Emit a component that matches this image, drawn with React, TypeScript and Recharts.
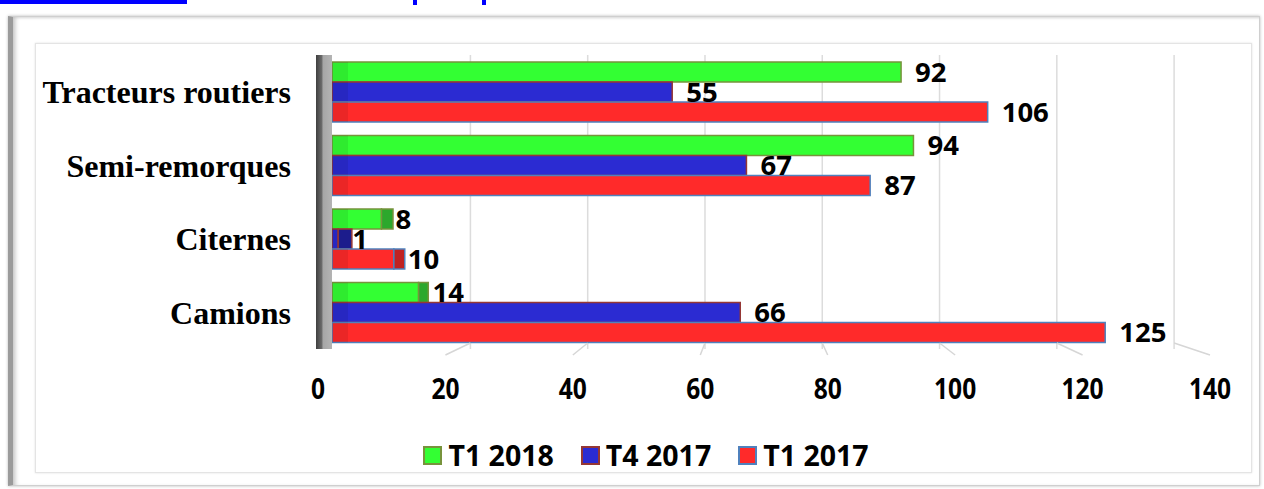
import { Bar, BarChart, CartesianGrid, LabelList, Legend, XAxis, YAxis } from "recharts";

const categories = ["Tracteurs routiers", "Semi-remorques", "Citernes", "Camions"];
const t1_2018 = [92, 94, 8, 14];
const t4_2017 = [55, 67, 1, 66];
const t1_2017 = [106, 87, 10, 125];
const xTicks = [0, 20, 40, 60, 80, 100, 120, 140];

const series = [
  { key: "t1_2018", name: "T1 2018", fill: "#33ff33", stroke: "#77933c", cap: "#2ca82c" },
  { key: "t4_2017", name: "T4 2017", fill: "#2b2bd2", stroke: "#953735", cap: "#1c1c8c" },
  { key: "t1_2017", name: "T1 2017", fill: "#ff2a2a", stroke: "#4f81bd", cap: "#c02222" },
];

const data = categories.map((name, i) => ({
  name,
  t1_2018: t1_2018[i],
  t4_2017: t4_2017[i],
  t1_2017: t1_2017[i],
}));

const NUM_FONT = '"Open Sans", "DejaVu Sans", sans-serif';
const SERIF = '"Liberation Serif", "Times New Roman", serif';
const X_MAX = 140;
const X_PAD = 8;

// fake 3D: back wall grid is squeezed, floor labels spread out a little
const backWall = (s: number) => 38.4 + s * 0.948;
const floorX = (s: number) => 318 + (s - 332) * 1.03;

function Bar3D(props: any) {
  const { x, y, width, height, fill, stroke, cap } = props;
  const capW = Math.max(0, 14 - width * 0.05);
  return (
    <g>
      <rect x={x} y={y} width={width} height={height} fill={fill} stroke={stroke} strokeWidth={1.5} />
      <rect x={x} y={y} width={Math.min(width, 16)} height={height} fill="#000" opacity={0.08} />
      {capW > 0 && (
        <rect x={x + width} y={y} width={capW} height={height} fill={cap} stroke={stroke} strokeWidth={1.5} />
      )}
    </g>
  );
}

function FloorTick({ x, y, payload }: any) {
  const lx = floorX(x);
  return (
    <g>
      {payload.value > 0 && (
        <line x1={backWall(x)} y1={y - 6} x2={lx} y2={y + 6} stroke="#d6d6d6" strokeWidth={1.5} />
      )}
      <text
        transform={`translate(${lx},${y + 50}) scale(0.91,1.09)`}
        textAnchor="middle"
        fontFamily={NUM_FONT}
        fontSize={27}
        fontWeight={700}
        fill="#000"
      >
        {payload.value}
      </text>
    </g>
  );
}

function SwatchLegend({ payload }: any) {
  const entries = series
    .map((s) => ({ s, entry: (payload ?? []).find((p: any) => p.dataKey === s.key) }))
    .filter((d) => d.entry);
  return (
    <div
      style={{
        display: "flex",
        justifyContent: "center",
        alignItems: "center",
        height: 30,
        paddingLeft: 28,
        gap: 27,
      }}
    >
      {entries.map(({ s, entry }) => (
        <div key={s.key} style={{ display: "flex", alignItems: "center", height: 30 }}>
          <span
            style={{
              display: "inline-block",
              width: 15,
              height: 15,
              background: s.fill,
              border: `2px solid ${s.stroke}`,
              marginRight: 6,
            }}
          />
          <span style={{ fontFamily: NUM_FONT, fontSize: 28.5, fontWeight: 700, lineHeight: "30px", color: "#000" }}>
            {entry.value}
          </span>
        </div>
      ))}
    </div>
  );
}

function gridXs({ xAxis, offset }: any) {
  return xTicks.slice(1).map((v) => {
    const s =
      typeof xAxis?.scale === "function"
        ? xAxis.scale(v)
        : offset.left + X_PAD + (v / X_MAX) * (offset.width - X_PAD);
    return backWall(s);
  });
}

export default function App() {
  return (
    <div style={{ position: "absolute", left: 0, top: 0, width: 1264, height: 489, overflow: "hidden", background: "#fff" }}>
      <div style={{ position: "absolute", left: 0, top: 0, width: 187, height: 4, background: "#0000ff" }} />
      <div style={{ position: "absolute", left: 413, top: 0, width: 4, height: 5, background: "#0000ff" }} />
      <div style={{ position: "absolute", left: 482, top: 0, width: 4, height: 5, background: "#0000ff" }} />
      <div
        style={{
          position: "absolute",
          left: 8,
          top: 16,
          width: 1252,
          height: 470,
          boxSizing: "border-box",
          border: "1px solid #cfcfcf",
          borderLeft: "5px solid #9a9a9a",
          boxShadow: "inset 5px 0 5px -3px #bdbdbd, inset 0 3px 3px -2px #d8d8d8, 0 0 3px #bbb",
        }}
      />
      <div
        style={{
          position: "absolute",
          left: 35,
          top: 43,
          width: 1217,
          height: 430,
          boxSizing: "border-box",
          border: "1px solid #e4e4e4",
          boxShadow: "0 0 2px #e0e0e0",
        }}
      />
      <div style={{ position: "absolute", left: 0, top: 0 }}>
        <BarChart
          width={1264}
          height={489}
          data={data}
          layout="vertical"
          margin={{ top: 55, right: 66, left: 0, bottom: 50 }}
          barSize={20}
          barGap={0}
        >
          <defs>
            <linearGradient id="wallGrad" x1="316" y1="0" x2="332" y2="0" gradientUnits="userSpaceOnUse">
              <stop offset="0%" stopColor="#3f3f3f" />
              <stop offset="35%" stopColor="#6a6a6a" />
              <stop offset="45%" stopColor="#a6a6a6" />
              <stop offset="100%" stopColor="#b4b4b4" />
            </linearGradient>
          </defs>
          <CartesianGrid
            horizontal={false}
            stroke="#dcdcdc"
            strokeWidth={1.5}
            verticalCoordinatesGenerator={gridXs}
          />
          <XAxis
            type="number"
            domain={[0, X_MAX]}
            ticks={xTicks}
            padding={{ left: X_PAD, right: 0 }}
            axisLine={false}
            tickLine={false}
            tickSize={0}
            tickMargin={0}
            height={60}
            tick={<FloorTick />}
            interval={0}
          />
          <YAxis
            type="category"
            dataKey="name"
            width={324}
            axisLine={{ stroke: "url(#wallGrad)", strokeWidth: 16 }}
            tickLine={false}
            tickSize={0}
            tickMargin={33}
            tick={{ fill: "#000", fontSize: 32, fontWeight: 700, fontFamily: SERIF }}
          />
          <Legend content={<SwatchLegend />} verticalAlign="bottom" wrapperStyle={{ left: 0, width: 1264, bottom: 19 }} />
          {series.map((s) => (
            <Bar
              key={s.key}
              dataKey={s.key}
              name={s.name}
              fill={s.fill}
              stroke={s.stroke}
              isAnimationActive={false}
              shape={(p: any) => <Bar3D {...p} cap={s.cap} />}
            >
              <LabelList
                dataKey={s.key}
                position="right"
                offset={14}
                fill="#000"
                fontSize={27.5}
                fontWeight={700}
                fontFamily={NUM_FONT}
              />
            </Bar>
          ))}
        </BarChart>
      </div>
    </div>
  );
}
